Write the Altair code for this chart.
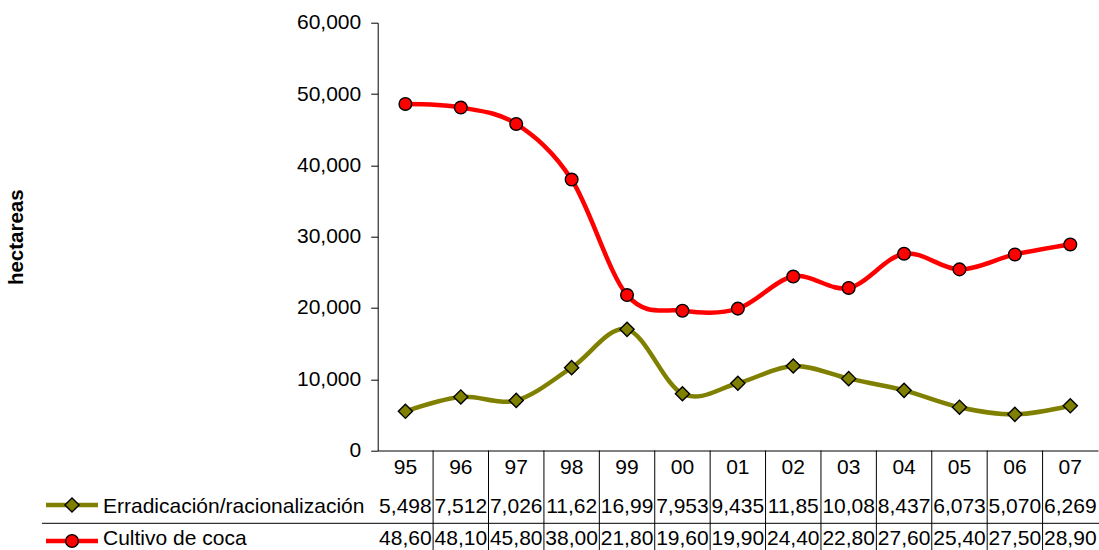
import altair as alt
import pandas as pd

# Campaign years (two-digit labels) and hectares per series
years = ["95", "96", "97", "98", "99", "00", "01", "02", "03", "04", "05", "06", "07"]
erradicacion = [5498, 7512, 7026, 11620, 16990, 7953, 9435, 11850, 10080, 8437, 6073, 5070, 6269]
cultivo = [48600, 48100, 45800, 38000, 21800, 19600, 19900, 24400, 22800, 27600, 25400, 27500, 28900]

series_names = ["Erradicación/racionalización", "Cultivo de coca"]
series_values = [erradicacion, cultivo]
series_colors = ["#808000", "#FF0000"]
series_shapes = ["diamond", "circle"]
series_sizes = [200, 160]
y_ticks = [0, 10000, 20000, 30000, 40000, 50000, 60000]

# plot-area geometry (pixels)
W, H = 720.3, 427.8
PAD_L, PAD_T = 377.7, 22.7
FONT = "Liberation Sans"
FS = 21

# table rows under the plot, relative to the plot origin
ROW_TEXT_Y = [484.5, 516.5]
ROW_GLYPH_Y = [482.3, 518.3]
ROW_SEP_Y = 500.6
TABLE_BOTTOM = 550 - PAD_T

rows = []
for name, vals in zip(series_names, series_values):
    for yr, v in zip(years, vals):
        # the data-table cells only show the first five characters
        rows.append({"year": yr, "series": name, "value": v, "label": f"{v:,}"[:5]})
df = pd.DataFrame(rows)
legend_df = pd.DataFrame({"series": series_names})
sep_df = pd.DataFrame({"year": years[1:]})

x_scale = alt.Scale(type="band", domain=years, paddingInner=0, paddingOuter=0)
x_axis = alt.Axis(
    title=None, ticks=False, domain=True, domainColor="#000000", domainWidth=1,
    labelFont=FONT, labelFontSize=FS, labelColor="#000000", labelPadding=6,
    labelAngle=0, grid=False,
)
x_center = alt.X("year:O", scale=x_scale, axis=x_axis, bandPosition=0.5, sort=years)
y_enc = alt.Y(
    "value:Q",
    scale=alt.Scale(domain=[0, 60000], nice=False, zero=True),
    axis=alt.Axis(
        values=y_ticks, format=",.0f", grid=False, tickSize=7, tickColor="#000000",
        domainColor="#000000", labelFont=FONT, labelFontSize=FS, labelColor="#000000",
        labelPadding=10, title="hectareas", titleFont=FONT, titleFontSize=20.5,
        titleFontWeight="bold", titleColor="#000000", titleAngle=-90,
        titleX=-361, titleY=214, titleAlign="center", titleBaseline="middle",
    ),
)
color_enc = alt.Color("series:N", scale=alt.Scale(domain=series_names, range=series_colors), legend=None)
shape_enc = alt.Shape("series:N", scale=alt.Scale(domain=series_names, range=series_shapes), legend=None)
size_enc = alt.Size("series:N", scale=alt.Scale(domain=series_names, range=series_sizes), legend=None)

base = alt.Chart(df)

lines = base.mark_line(interpolate="cardinal", strokeWidth=4.5).encode(
    x=x_center, y=y_enc, color=color_enc, detail="series:N"
)
points = base.mark_point(filled=True, stroke="#000000", strokeWidth=1.4, opacity=1).encode(
    x=x_center, y=y_enc, color=color_enc, shape=shape_enc, size=size_enc
)

# vertical separators of the data table
col_seps = alt.Chart(sep_df).mark_rule(color="#000000", strokeWidth=1).encode(
    x=alt.X("year:O", scale=x_scale, axis=x_axis, bandPosition=0, sort=years),
    y=alt.value(H), y2=alt.value(TABLE_BOTTOM),
)
row_sep = alt.Chart(legend_df.head(1)).mark_rule(color="#000000", strokeWidth=1).encode(
    x=alt.value(42 - PAD_L), x2=alt.value(1099 - PAD_L), y=alt.value(ROW_SEP_Y)
)

layers = [lines, points, col_seps, row_sep]

for i, name in enumerate(series_names):
    cells = base.transform_filter(alt.datum.series == name).mark_text(
        font=FONT, fontSize=FS, color="#000000", align="center", baseline="middle"
    ).encode(x=x_center, y=alt.value(ROW_TEXT_Y[i]), text="label:N")

    leg = alt.Chart(legend_df).transform_filter(alt.datum.series == name)
    leg_line = leg.mark_rule(color=series_colors[i], strokeWidth=4.5).encode(
        x=alt.value(46 - PAD_L), x2=alt.value(98 - PAD_L), y=alt.value(ROW_GLYPH_Y[i])
    )
    leg_mark = leg.mark_point(
        filled=True, fill=series_colors[i], stroke="#000000", strokeWidth=1.4,
        shape=series_shapes[i], size=series_sizes[i], opacity=1,
    ).encode(x=alt.value(72 - PAD_L), y=alt.value(ROW_GLYPH_Y[i]))
    leg_text = leg.mark_text(
        font=FONT, fontSize=FS, color="#000000", align="left", baseline="middle"
    ).encode(x=alt.value(103 - PAD_L), y=alt.value(ROW_TEXT_Y[i]), text="series:N")
    layers += [cells, leg_line, leg_mark, leg_text]

chart = alt.layer(*layers).properties(
    width=W, height=H,
    autosize=alt.AutoSizeParams(type="none"),
    padding={"left": PAD_L, "top": PAD_T, "right": 1099 - PAD_L - W, "bottom": 550 - PAD_T - H},
    background="#FFFFFF",
).configure_view(strokeWidth=0)

chart.save("out.html", embed_options={"renderer": "svg", "actions": False})
